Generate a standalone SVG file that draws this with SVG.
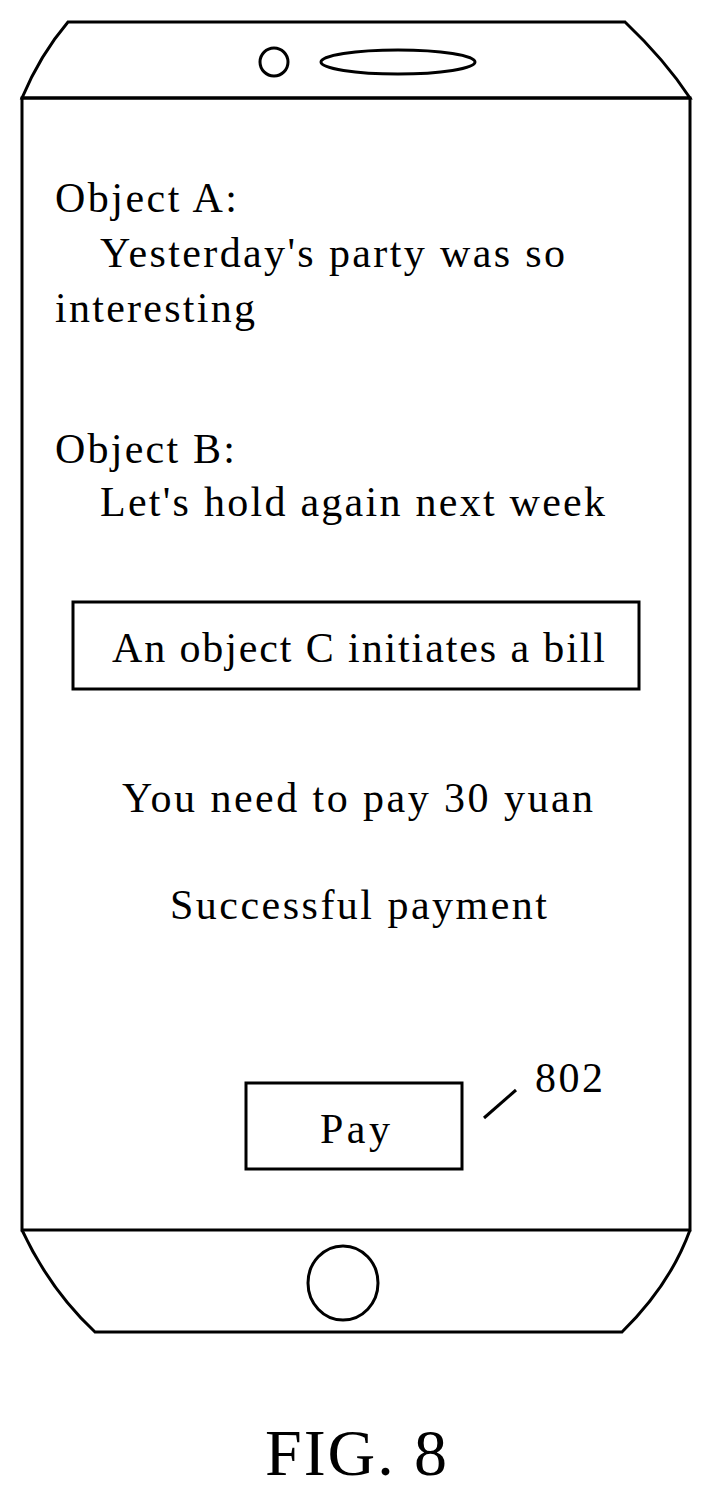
<svg xmlns="http://www.w3.org/2000/svg" width="711" height="1495" viewBox="0 0 711 1495">
<style>
.s{fill:none;stroke:#000;stroke-width:3}
text{font-family:"Liberation Serif","Times New Roman",serif;font-size:42px;fill:#000}
</style>
<rect width="711" height="1495" fill="#fff"/>
<g id="phone">
<path class="s" d="M22,98 Q40,55 68,22 L625,22 Q665,60 690,98 Z"/>
<circle class="s" cx="274" cy="62" r="14"/>
<ellipse class="s" cx="398" cy="62" rx="77" ry="12"/>
<rect class="s" x="22" y="98" width="668" height="1132"/>
<path class="s" d="M22,1230 Q50,1290 95,1332 L622,1332 Q670,1285 690,1230"/>
<ellipse class="s" cx="343" cy="1283" rx="35" ry="37"/>
</g>
<g id="chat">
<text x="55" y="212" textLength="182" lengthAdjust="spacing">Object A:</text>
<text x="100" y="267" textLength="465" lengthAdjust="spacing">Yesterday's party was so</text>
<text x="55" y="322" textLength="200" lengthAdjust="spacing">interesting</text>
<text x="55" y="463" textLength="180" lengthAdjust="spacing">Object B:</text>
<text x="100" y="516" textLength="505" lengthAdjust="spacing">Let's hold again next week</text>
</g>
<g id="bill">
<rect class="s" x="73" y="602" width="566" height="87"/>
<text x="112" y="662" textLength="493" lengthAdjust="spacing">An object C initiates a bill</text>
</g>
<text x="122" y="812" textLength="471" lengthAdjust="spacing">You need to pay 30 yuan</text>
<text x="170" y="919" textLength="377" lengthAdjust="spacing">Successful payment</text>
<g id="pay">
<rect class="s" x="246" y="1083" width="216" height="86"/>
<text x="320" y="1143" textLength="70" lengthAdjust="spacing">Pay</text>
</g>
<g id="connectors">
<line class="s" x1="484" y1="1118" x2="516" y2="1090"/>
</g>
<text x="535" y="1092" textLength="68" lengthAdjust="spacing">802</text>
<text x="265" y="1475" textLength="182" lengthAdjust="spacing" style="font-size:66px">FIG. 8</text>
</svg>
